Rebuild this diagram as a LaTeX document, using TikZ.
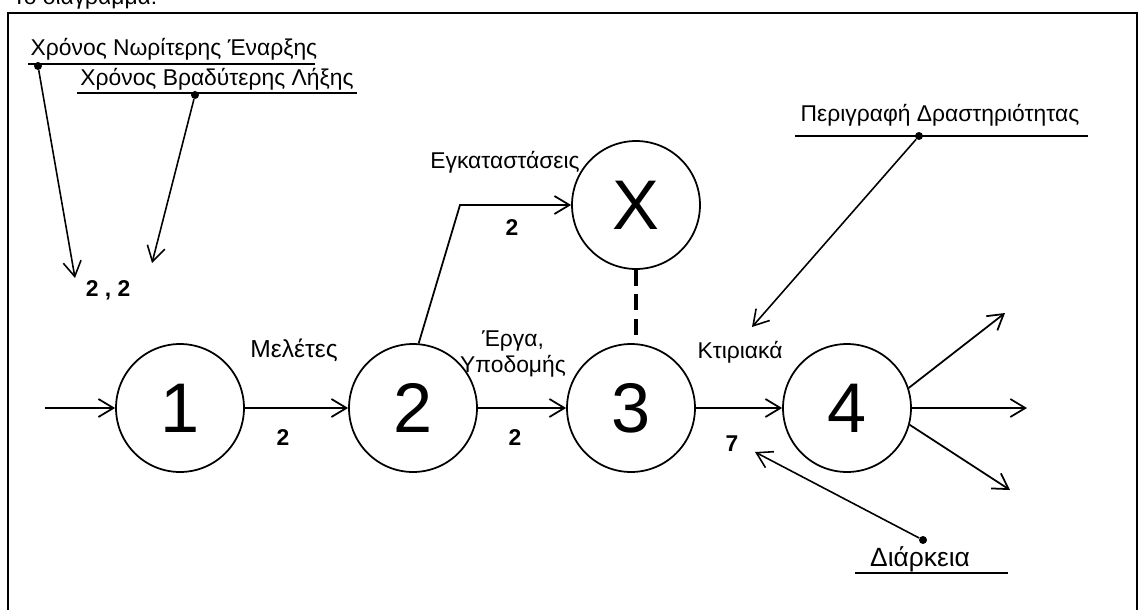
\documentclass[tikz,border=0pt]{standalone}
\usepackage{fontspec}
\setmainfont{Liberation Sans}
\usetikzlibrary{arrows.meta,positioning}

\begin{document}
\begin{tikzpicture}[x=0.02cm,y=-0.02cm,
  event/.style={draw,circle,line width=1pt,minimum size=2.56cm,inner sep=0pt,font=\fontsize{40}{40}\selectfont},
  act/.style={-{Straight Barb[length=3mm,width=3.6mm]},line width=1pt},
  note/.style={-{Straight Barb[length=3mm,width=3.6mm]},line width=0.9pt},
  uline/.style={line width=1.6pt},
  lbl/.style={font=\fontsize{13}{15}\selectfont},
  num/.style={font=\fontsize{13}{15}\selectfont\bfseries},
  pin/.style={circle,fill,inner sep=0pt,minimum size=1.6mm}]
\useasboundingbox (0,0) rectangle (1142,609);
% frame and cut-off heading
\draw[line width=0.8pt] (8,13) rectangle (1137,640);
\node[lbl,anchor=base west,inner sep=0pt] (head) at (12,4) {Το διάγραμμα:};

% events
\node[event] (e1) at (180,408) {1};
\node[event] (e2) at (413,408) {2};
\node[event] (e3) at (631,408) {3};
\node[event] (e4) at (847,408) {4};
\node[event] (ex) at (636,205) {X};

% activities
\coordinate (start) at (45,408);
\coordinate (bend) at (460,205);
\coordinate (o1) at (1005,313);
\coordinate (o2) at (1027,408);
\coordinate (o3) at (1010,490);
\draw[act] (start) -- (e1);
\draw[act] (e1) -- (e2);
\draw[act] (e2) -- (e3);
\draw[act] (e3) -- (e4);
\draw[act] (e2.85) -- (bend) -- (ex.west);
\draw[line width=2pt,dash pattern=on 9pt off 5pt] (ex.south) -- (ex.south |- e3.north);
\draw[act] (e4.18) -- (o1);
\draw[act] (e4.east) -- (o2);
\draw[act] (e4.-15) -- (o3);

% activity labels
\node[lbl,font=\fontsize{14}{16}\selectfont] (mel) at (294,350) {Μελέτες};
\node[lbl,align=center,inner sep=0pt] (erg) at (513,354) {Έργα,\\Υποδομής};
\node[lbl] (egk) at (505,162) {Εγκαταστάσεις};
\node[lbl] (ktir) at (740,352) {Κτιριακά};
\node[num] (d12) at (283,438) {2};
\node[num] (d23) at (515,438) {2};
\node[num] (d2x) at (512,228) {2};
\node[num] (d34) at (732,444) {7};
\node[num] (ees) at (108,290) {2 , 2};

% legend notes
\node[lbl] (tes) at (174,49) {Χρόνος Νωρίτερης Έναρξης};
\draw[uline] (28,64) coordinate (u1a) -- (315,64) coordinate (u1b);
\node[pin] (p1) at (38,66) {};
\coordinate (a1) at (75,278);
\draw[note] (p1) -- (a1);

\node[lbl] (tlf) at (217,79) {Χρόνος Βραδύτερης Λήξης};
\draw[uline] (77,93) coordinate (u2a) -- (357,93) coordinate (u2b);
\node[pin] (p2) at (195,95) {};
\coordinate (a2) at (152,263);
\draw[note] (p2) -- (a2);

\node[lbl] (tdesc) at (940,115) {Περιγραφή Δραστηριότητας};
\draw[uline] (795,136) coordinate (u3a) -- (1088,136) coordinate (u3b);
\node[pin] (p3) at (919,136) {};
\coordinate (a3) at (752,327);
\draw[note] (p3) -- (a3);

\node[lbl,font=\fontsize{15}{17}\selectfont] (tdur) at (920,559) {Διάρκεια};
\draw[uline] (855,573) coordinate (u4a) -- (1008,573) coordinate (u4b);
\node[pin] (p4) at (923,540) {};
\coordinate (a4) at (755,452);
\draw[note] (p4) -- (a4);
\end{tikzpicture}
\end{document}
